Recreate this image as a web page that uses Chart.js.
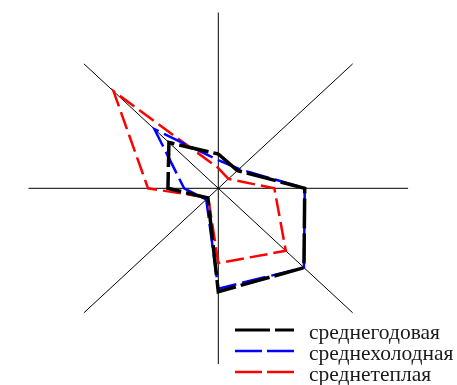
<!DOCTYPE html>
<html>
<head>
<meta charset="utf-8">
<script src="https://cdn.jsdelivr.net/npm/chart.js@4/dist/chart.umd.min.js"></script>
<style>
    body { margin: 0; background: #fff; }
    #wrap { position: relative; width: 457px; height: 385px; }
    #legend { position: absolute; left: 235px; top: 322px; font-family: "Liberation Serif", "DejaVu Serif", serif; font-size: 21.5px; line-height: 21px; color: #1a1a1a; }
    #legend .row { position: relative; height: 21px; padding-left: 74px; white-space: nowrap; }
    #legend svg { position: absolute; left: 0; top: 5px; }
</style>
</head>
<body>
<div id="wrap">
    <canvas id="roseChart"></canvas>
    <div id="legend"></div>
</div>
<script>
    // Румбы (по часовой стрелке от севера)
    const directions = ['С', 'СВ', 'В', 'ЮВ', 'Ю', 'ЮЗ', 'З', 'СЗ'];

    // Повторяемость ветра по румбам
    const yearAvg = [3.9, 2.85, 9.1, 12.75, 11.75, 1.55, 5.3, 7.35];
    const coldAvg = [3.2, 3.1, 9.1, 12.75, 11.4, 1.8, 3.6, 9.5];
    const warmAvg = [2.3, 1.5, 5.9, 10.05, 8.5, 1.5, 7.4, 15.6];

    const seriesNames = ['среднегодовая', 'среднехолодная', 'среднетеплая'];
    const seriesColors = ['#000000', '#0000ff', '#ff0000'];
    const axisMax = 20;

    const angleOf = i => i * 2 * Math.PI / directions.length;

    function toPoints(values) {
        const pts = values.map((v, i) => ({ x: v * Math.sin(angleOf(i)), y: v * Math.cos(angleOf(i)) }));
        pts.push(pts[0]); // замкнуть контур
        return pts;
    }

    // оси румбов
    const spokes = directions.slice(0, directions.length / 2).map((d, i) => ({
        label: d,
        data: [
            { x: -axisMax * Math.sin(angleOf(i)), y: -axisMax * Math.cos(angleOf(i)) },
            { x: axisMax * Math.sin(angleOf(i)), y: axisMax * Math.cos(angleOf(i)) }
        ],
        showLine: true,
        borderColor: '#000',
        borderWidth: 1,
        pointRadius: 0
    }));

    const series = [yearAvg, coldAvg, warmAvg].map((vals, i) => ({
        label: seriesNames[i],
        data: toPoints(vals),
        showLine: true,
        fill: false,
        borderColor: seriesColors[i],
        borderWidth: [3.5, 2.5, 2.5][i],
        borderDash: [[30, 5], [24, 6], [18, 6]][i],
        borderJoinStyle: 'miter',
        borderCapStyle: 'butt',
        pointRadius: 0,
        tension: 0
    }));

    const ctx = document.getElementById('roseChart').getContext('2d');
    new Chart(ctx, {
        type: 'scatter',
        data: { datasets: series.concat(spokes) },
        options: {
            responsive: true,
            maintainAspectRatio: false,
            animation: false,
            layout: { padding: { left: 28.3, right: 48.7, top: 12.3, bottom: 20.7 } },
            plugins: {
                legend: { display: false },
                tooltip: { enabled: false }
            },
            scales: {
                x: { display: false, min: -axisMax, max: axisMax },
                y: { display: false, min: -axisMax, max: axisMax }
            }
        }
    });

    // Легенда
    const legendDash = ['35 5', '27 5', '27 5'];
    const legendWidth = [3, 2.5, 2.5];
    const legend = document.getElementById('legend');
    seriesNames.forEach((name, i) => {
        const row = document.createElement('div');
        row.className = 'row';
        row.innerHTML = '<svg width="60" height="6"><line x1="0" y1="3" x2="59" y2="3" stroke="' + seriesColors[i] +
            '" stroke-width="' + legendWidth[i] + '" stroke-dasharray="' + legendDash[i] + '"/></svg>' + name;
        legend.appendChild(row);
    });
</script>
</body>
</html>
